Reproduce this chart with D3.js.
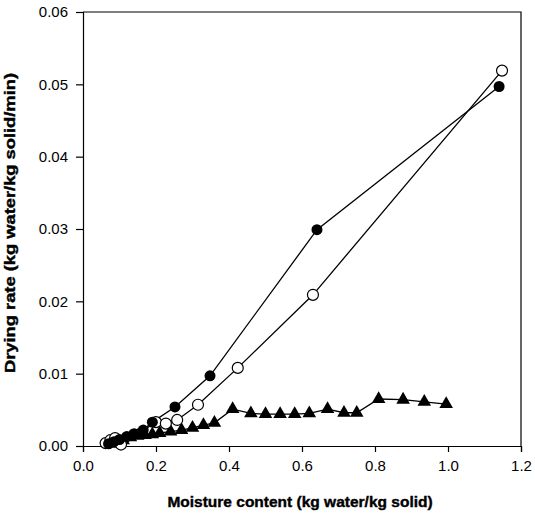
<!DOCTYPE html>
<html>
<head>
<meta charset="utf-8">
<script src="https://cdn.jsdelivr.net/npm/d3@7"></script>
<style>
  body { margin: 0; background: #fff; }
  .axis text { font-family: "Liberation Sans", Arial, sans-serif; font-size: 15px; fill: #000; }
  .axis path, .axis line { stroke: #000; stroke-width: 1.2; }
  .axis-title { font-family: "Liberation Sans", Arial, sans-serif; font-size: 15.5px; font-weight: bold; stroke: #000; stroke-width: 0.4; }
</style>
</head>
<body>
<div id="chart-area"></div>
<script>
// data
var filledX = [0.07, 0.085, 0.10, 0.12, 0.14, 0.165, 0.19, 0.252, 0.348, 0.641, 1.14];
var filledY = [0.0003, 0.0006, 0.0009, 0.0013, 0.0017, 0.0022, 0.0033, 0.0054, 0.0097, 0.0299, 0.0497];

var openX = [0.062, 0.075, 0.088, 0.104, 0.20, 0.227, 0.258, 0.315, 0.424, 0.630, 1.148];
var openY = [0.0004, 0.0008, 0.0011, 0.0002, 0.0033, 0.0031, 0.0036, 0.0057, 0.0108, 0.0209, 0.0519];

var triX = [0.085, 0.11, 0.13, 0.15, 0.17, 0.19, 0.21, 0.24, 0.27, 0.30, 0.33, 0.36, 0.41, 0.46, 0.50, 0.54, 0.58, 0.62, 0.67, 0.715, 0.75, 0.81, 0.877, 0.935, 0.995];
var triY = [0.0003, 0.0008, 0.0012, 0.0014, 0.0015, 0.0016, 0.0018, 0.0020, 0.0022, 0.0025, 0.0029, 0.0032, 0.0051, 0.0045, 0.0044, 0.0044, 0.0044, 0.0045, 0.0051, 0.0046, 0.0046, 0.0065, 0.0064, 0.0061, 0.0058];

var xTicks = [0.0, 0.2, 0.4, 0.6, 0.8, 1.0, 1.2];
var yTicks = [0.00, 0.01, 0.02, 0.03, 0.04, 0.05, 0.06];

var margin = {top: 12, right: 14, bottom: 70, left: 83};
var width = 535 - margin.left - margin.right,
    height = 516 - margin.top - margin.bottom;

var svg = d3.select("#chart-area").append("svg")
    .attr("width", 535)
    .attr("height", 516)
    .append("g")
    .attr("transform", "translate(" + margin.left + "," + margin.top + ")");

var x = d3.scaleLinear().domain([0, 1.2]).range([0, width]);
var y = d3.scaleLinear().domain([0, 0.06]).range([height, 0]);

// frame (top + right)
svg.append("path")
    .attr("d", "M0,0H" + width + "V" + height)
    .attr("fill", "none")
    .attr("stroke", "#000")
    .attr("stroke-width", 1.2);

svg.append("g")
    .attr("class", "x-axis axis")
    .attr("transform", "translate(0," + height + ")")
    .call(d3.axisBottom(x).tickValues(xTicks).tickFormat(d3.format(".1f")).tickSizeOuter(0).tickSize(6).tickPadding(8));

svg.append("g")
    .attr("class", "y-axis axis")
    .call(d3.axisLeft(y).tickValues(yTicks).tickFormat(d3.format(".2f")).tickSizeOuter(0).tickSize(7).tickPadding(8));

svg.append("text")
    .attr("class", "axis-title")
    .attr("text-anchor", "middle")
    .attr("x", width / 2 - 2)
    .attr("y", height + 61)
    .text("Moisture content (kg water/kg solid)");

svg.append("text")
    .attr("class", "axis-title")
    .attr("text-anchor", "middle")
    .attr("font-size", "16.5px")
    .attr("textLength", 300)
    .attr("lengthAdjust", "spacingAndGlyphs")
    .attr("transform", "translate(-68," + (height / 2 - 6) + ") rotate(-90)")
    .text("Drying rate (kg water/kg solid/min)");

var line = d3.line()
    .x(function(d) { return x(d[0]); })
    .y(function(d) { return y(d[1]); });

function pairs(xs, ys) {
    return xs.map(function(v, i) { return [v, ys[i]]; });
}

var tri = pairs(triX, triY),
    opn = pairs(openX, openY),
    fil = pairs(filledX, filledY);

[tri, opn, fil].forEach(function(s) {
    svg.append("path")
        .datum(s)
        .attr("d", line)
        .attr("fill", "none")
        .attr("stroke", "#000")
        .attr("stroke-width", 1.3);
});

svg.selectAll(".tri")
    .data(tri)
    .enter().append("path")
    .attr("class", "tri")
    .attr("d", d3.symbol().type(d3.symbolTriangle).size(80))
    .attr("transform", function(d) { return "translate(" + x(d[0]) + "," + y(d[1]) + ")"; })
    .attr("fill", "#000");

svg.selectAll(".open")
    .data(opn)
    .enter().append("circle")
    .attr("class", "open")
    .attr("cx", function(d) { return x(d[0]); })
    .attr("cy", function(d) { return y(d[1]); })
    .attr("r", 5.5)
    .attr("fill", "#fff")
    .attr("stroke", "#000")
    .attr("stroke-width", 1.2);

svg.selectAll(".filled")
    .data(fil)
    .enter().append("circle")
    .attr("class", "filled")
    .attr("cx", function(d) { return x(d[0]); })
    .attr("cy", function(d) { return y(d[1]); })
    .attr("r", 5.5)
    .attr("fill", "#000");
</script>
</body>
</html>
